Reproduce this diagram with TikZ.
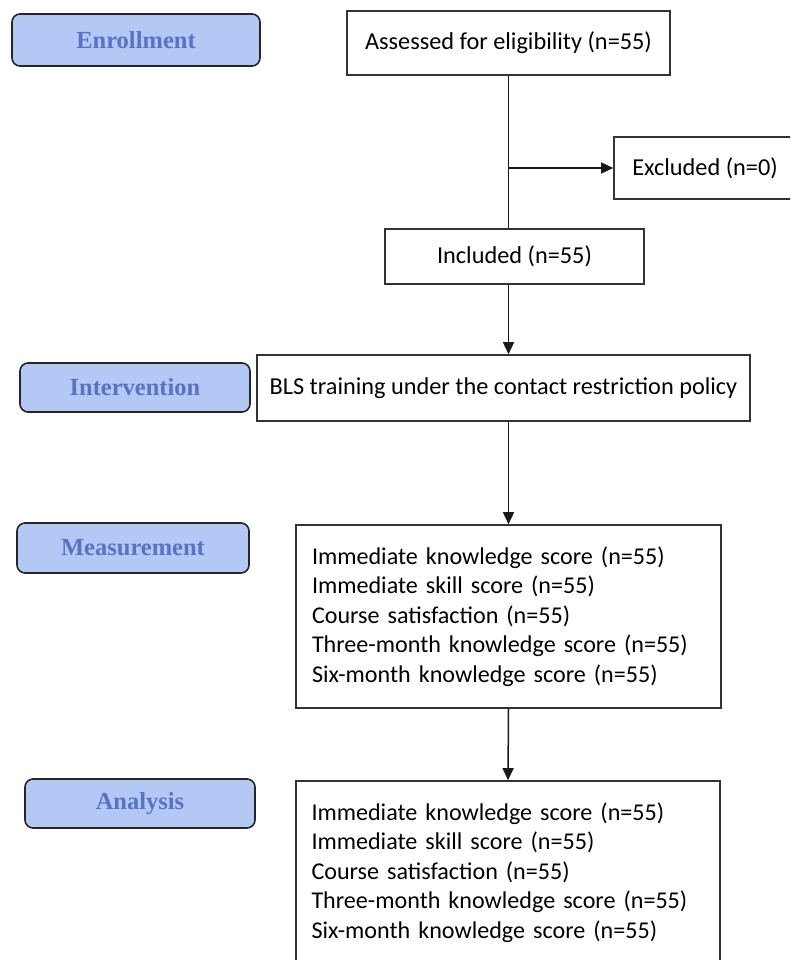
\documentclass[tikz,border=0pt]{standalone}
\usepackage{fontspec}
\setmainfont{Carlito}
\newfontfamily\labelfont{Liberation Serif}
\usetikzlibrary{arrows.meta}
\definecolor{labfill}{HTML}{B4C8F6}
\definecolor{labtext}{HTML}{5A72C2}
\definecolor{boxline}{HTML}{333333}
\tikzset{
  stagelabel/.style={draw=black!85, line width=1.6pt, rounded corners=8pt, fill=labfill,
    text=labtext, font=\labelfont\fontsize{24.5}{28}\selectfont\bfseries, inner sep=0pt},
  flowbox/.style={draw=boxline, line width=1.6pt, font=\fontsize{24.3}{28}\selectfont, inner sep=0pt, align=center},
  listbox/.style={draw=boxline, line width=1.6pt, font=\fontsize{24.1}{29.5}\selectfont, inner sep=0pt,
    text width=393pt, align=left},
  conn/.style={draw=black!90, line width=1.5pt},
  arrow/.style={conn, -{Triangle[length=12pt,width=11pt]}}
}
\begin{document}
\begin{tikzpicture}[x=1pt,y=-1pt]
\useasboundingbox (0,0) rectangle (790,960);
\begin{scope}
\clip (0,0) rectangle (790,960);
% stage labels
\node[stagelabel, minimum width=248pt, minimum height=52pt] (lenroll) at (136,40) {Enrollment};
\node[stagelabel, minimum width=230pt, minimum height=49pt] (linterv) at (135,387.5) {Intervention};
\node[stagelabel, minimum width=232pt, minimum height=50pt] (lmeas) at (133,548) {Measurement};
\node[stagelabel, minimum width=230pt, minimum height=49pt] (lanal) at (140,803.5) {Analysis};
% flow boxes
\node[flowbox, minimum width=323pt, minimum height=64pt] (assess) at (508.5,43) {Assessed for eligibility (n=55)};
\node[flowbox, minimum width=182pt, minimum height=62pt] (excl) at (705,168) {Excluded (n=0)};
\node[flowbox, minimum width=259pt, minimum height=55pt] (incl) at (514.5,256.5) {Included (n=55)};
\node[flowbox, minimum width=493pt, minimum height=66pt] (bls) at (503.5,388) {BLS training under the contact restriction policy};
\node[listbox, minimum width=425pt, minimum height=183pt] (meas) at (508.5,616.5) {Immediate knowledge score (n=55)\\Immediate skill score (n=55)\\Course satisfaction (n=55)\\Three-month knowledge score (n=55)\\Six-month knowledge score (n=55)};
\node[listbox, minimum width=424pt, minimum height=183pt] (anal) at (508,872.5) {Immediate knowledge score (n=55)\\Immediate skill score (n=55)\\Course satisfaction (n=55)\\Three-month knowledge score (n=55)\\Six-month knowledge score (n=55)};
% connectors
\coordinate (br) at (assess.south |- excl.west);
\draw[conn] (assess.south) -- (assess.south |- incl.north);
\draw[arrow] (br) -- (excl.west);
\draw[arrow] (incl.south -| assess.south) -- (bls.north -| assess.south);
\draw[arrow] (bls.south -| assess.south) -- (meas.north -| assess.south);
\draw[arrow] (meas.south) -- (anal.north);
\end{scope}
\end{tikzpicture}
\end{document}
